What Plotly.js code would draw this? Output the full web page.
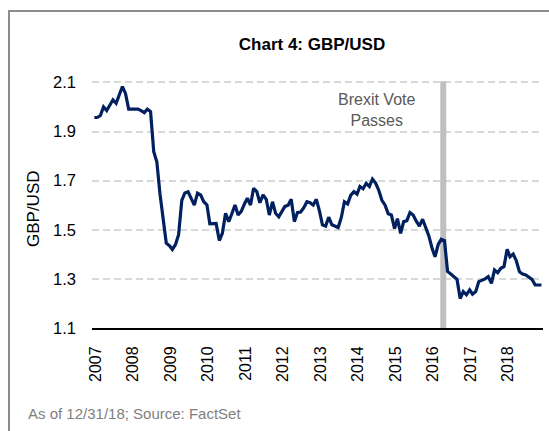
<!DOCTYPE html>
<html>
<head>
<meta charset="utf-8">
<script src="https://cdn.plot.ly/plotly-3.0.1.min.js"></script>
<style>
  html, body { margin: 0; padding: 0; background: #fff; }
  #wrap { position: relative; width: 549px; height: 431px; overflow: hidden; }
  #chart { width: 549px; height: 431px; }
  #frame { position: absolute; left: 8px; top: 10px; width: 560px; height: 440px;
           border-left: 2px solid #8c8c8c; border-top: 2px solid #8c8c8c; pointer-events: none; }
</style>
</head>
<body>
<div id="wrap">
  <div id="chart"></div>
  <div id="frame"></div>
</div>
<script>
// Month-end GBP/USD
const years = [2007, 2008, 2009, 2010, 2011, 2012, 2013, 2014, 2015, 2016, 2017, 2018];
const gbp2007 = [1.957, 1.957, 1.965, 2.000, 1.985, 2.005, 2.029, 2.015, 2.045, 2.083, 2.055, 1.991];
const gbp2008 = [1.991, 1.990, 1.991, 1.985, 1.977, 1.991, 1.981, 1.818, 1.777, 1.645, 1.535, 1.445];
const gbp2009 = [1.435, 1.420, 1.440, 1.480, 1.620, 1.650, 1.655, 1.630, 1.600, 1.649, 1.642, 1.614];
const gbp2010 = [1.601, 1.524, 1.525, 1.526, 1.456, 1.486, 1.567, 1.533, 1.565, 1.601, 1.560, 1.575];
const gbp2011 = [1.605, 1.628, 1.601, 1.669, 1.655, 1.610, 1.642, 1.624, 1.560, 1.614, 1.567, 1.553];
const gbp2012 = [1.575, 1.595, 1.600, 1.624, 1.533, 1.570, 1.572, 1.590, 1.614, 1.610, 1.600, 1.624];
const gbp2013 = [1.575, 1.520, 1.515, 1.551, 1.520, 1.513, 1.509, 1.550, 1.614, 1.605, 1.640, 1.655];
const gbp2014 = [1.645, 1.676, 1.667, 1.689, 1.676, 1.706, 1.690, 1.660, 1.620, 1.600, 1.565, 1.560];
const gbp2015 = [1.505, 1.545, 1.485, 1.533, 1.537, 1.570, 1.560, 1.535, 1.515, 1.543, 1.505, 1.475];
const gbp2016 = [1.425, 1.390, 1.440, 1.461, 1.456, 1.330, 1.320, 1.310, 1.298, 1.220, 1.248, 1.235];
const gbp2017 = [1.255, 1.238, 1.248, 1.289, 1.293, 1.300, 1.309, 1.282, 1.336, 1.325, 1.343, 1.350];
const gbp2018 = [1.420, 1.390, 1.401, 1.374, 1.329, 1.320, 1.316, 1.306, 1.298, 1.275, 1.275, 1.275];
const yearlySeries = [gbp2007, gbp2008, gbp2009, gbp2010, gbp2011, gbp2012,
                      gbp2013, gbp2014, gbp2015, gbp2016, gbp2017, gbp2018];

const yTicks = [1.1, 1.3, 1.5, 1.7, 1.9, 2.1];
const yTickText = ['1.1', '1.3', '1.5', '1.7', '1.9', '2.1'];
const xTickText = years.map(String);
const brexitMarker = '2016-05-19';
const brexitLabel = 'Brexit Vote<br>Passes';
const titleText = 'Chart 4: GBP/USD';
const yTitleText = 'GBP/USD';
const footerText = 'As of 12/31/18; Source: FactSet';

// Build x (month-end dates) and y
const xDates = [];
const yVals = [];
years.forEach((yr, yi) => {
  yearlySeries[yi].forEach((v, m) => {
    const d = new Date(Date.UTC(yr, m + 1, 0));
    xDates.push(d.toISOString().slice(0, 10));
    yVals.push(v);
  });
});
const xTickVals = years.map(y => y + '-02-10');

const FONT = 'Arial, "Liberation Sans", Helvetica, sans-serif';

const trace = {
  type: 'scatter',
  mode: 'lines',
  x: xDates,
  y: yVals,
  line: { color: '#002060', width: 3.2 },
  hoverinfo: 'skip'
};

const layout = {
  width: 549,
  height: 431,
  margin: { l: 92, r: 6, t: 75, b: 103 },
  paper_bgcolor: '#ffffff',
  plot_bgcolor: '#ffffff',
  showlegend: false,
  font: { family: FONT, color: '#000' },
  title: {
    text: '<b>' + titleText + '</b>',
    font: { family: FONT, size: 17, color: '#000' },
    xref: 'container', x: 312 / 549, xanchor: 'center',
    yref: 'container', y: 1 - 44 / 431, yanchor: 'middle'
  },
  xaxis: {
    type: 'date',
    range: ['2007-01-08', '2019-01-15'],
    tickmode: 'array',
    tickvals: xTickVals,
    ticktext: xTickText,
    tickangle: -90,
    tickfont: { family: FONT, size: 16, color: '#000' },
    ticks: '',
    ticklabelstandoff: 10,
    showgrid: false,
    zeroline: false,
    showline: true,
    linecolor: '#000',
    linewidth: 2,
    fixedrange: true
  },
  yaxis: {
    range: [1.1, 2.13],
    tickmode: 'array',
    tickvals: yTicks,
    ticktext: yTickText,
    tickfont: { family: FONT, size: 16.5, color: '#000' },
    ticks: '',
    ticklabelstandoff: 15,
    showgrid: true,
    gridcolor: '#d9d9d9',
    gridwidth: 2,
    griddash: '7px,4px',
    zeroline: false,
    showline: false,
    fixedrange: true
  },
  shapes: [
    {
      type: 'line', layer: 'between',
      xref: 'x', yref: 'y',
      x0: brexitMarker, x1: brexitMarker,
      y0: 1.1, y1: 2.105,
      line: { color: '#bfbfbf', width: 6 }
    }
  ],
  annotations: [
    {
      text: brexitLabel,
      xref: 'paper', yref: 'paper',
      x: (376 - 92) / 451, y: (328 - 110) / 253,
      xanchor: 'center', yanchor: 'middle',
      showarrow: false, align: 'center',
      font: { family: FONT, size: 16, color: '#595959' }
    },
    {
      text: yTitleText,
      xref: 'paper', yref: 'paper',
      x: (33 - 92) / 451, y: (328 - 209) / 253,
      xanchor: 'center', yanchor: 'middle',
      textangle: -90, showarrow: false,
      font: { family: FONT, size: 17, color: '#000' }
    },
    {
      text: footerText,
      xref: 'paper', yref: 'paper',
      x: (26 - 92) / 451, y: (328 - 413) / 253,
      xanchor: 'left', yanchor: 'middle',
      showarrow: false,
      font: { family: FONT, size: 15, color: '#7f7f7f' }
    }
  ]
};

Plotly.newPlot('chart', [trace], layout, { displayModeBar: false, staticPlot: true });
</script>
</body>
</html>
